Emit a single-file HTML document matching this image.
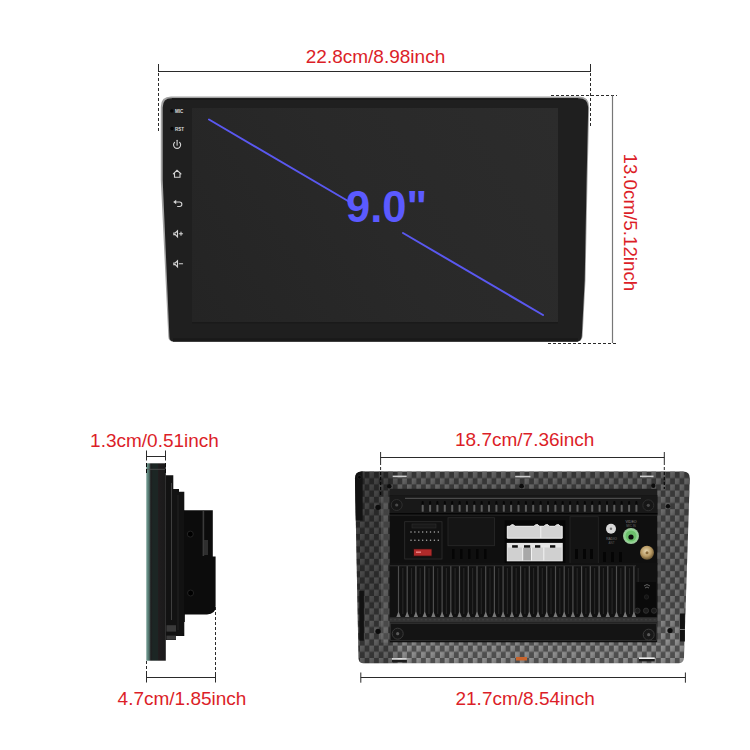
<!DOCTYPE html>
<html><head><meta charset="utf-8">
<style>
html,body{margin:0;padding:0;background:#fff;}
body{width:750px;height:750px;overflow:hidden;position:relative;font-family:"Liberation Sans",sans-serif;}
svg{position:absolute;left:0;top:0;}
.t{font-family:"Liberation Sans",sans-serif;font-size:19px;fill:#dc1e28;}
</style></head>
<body>
<svg width="750" height="750" viewBox="0 0 750 750">
<defs>
  <linearGradient id="scr" x1="558" y1="108" x2="192" y2="322" gradientUnits="userSpaceOnUse">
    <stop offset="0" stop-color="#2c2c2c"/>
    <stop offset="0.5" stop-color="#292929"/>
    <stop offset="1" stop-color="#242424"/>
  </linearGradient>
  <pattern id="cf" width="9.4" height="12.4" patternUnits="userSpaceOnUse" x="360" y="472">
    <rect width="9.4" height="12.4" fill="#4e4e4e"/>
    <rect x="0" y="0" width="4.7" height="6.2" fill="url(#cell)"/>
    <rect x="4.7" y="6.2" width="4.7" height="6.2" fill="url(#cell)"/>
  </pattern>
  <radialGradient id="blob" cx="0.45" cy="0.4" r="0.6">
    <stop offset="0" stop-color="#a0a0a0"/>
    <stop offset="0.5" stop-color="#808080"/>
    <stop offset="1" stop-color="#505050"/>
  </radialGradient>
  <linearGradient id="cell" x1="0" x2="1" y1="0" y2="1">
    <stop offset="0" stop-color="#969696"/>
    <stop offset="0.5" stop-color="#878787"/>
    <stop offset="1" stop-color="#707070"/>
  </linearGradient>
  <linearGradient id="cfshadeH" x1="355" x2="690" y1="0" y2="0" gradientUnits="userSpaceOnUse">
    <stop offset="0" stop-color="#000" stop-opacity="0.36"/>
    <stop offset="0.1" stop-color="#000" stop-opacity="0.3"/>
    <stop offset="0.14" stop-color="#000" stop-opacity="0"/>
    <stop offset="1" stop-color="#000" stop-opacity="0"/>
  </linearGradient>
  <linearGradient id="cfshadeV" x1="0" x2="0" y1="472" y2="663" gradientUnits="userSpaceOnUse">
    <stop offset="0" stop-color="#000" stop-opacity="0.32"/>
    <stop offset="0.15" stop-color="#000" stop-opacity="0.26"/>
    <stop offset="0.65" stop-color="#000" stop-opacity="0.2"/>
    <stop offset="0.88" stop-color="#000" stop-opacity="0"/>
    <stop offset="1" stop-color="#000" stop-opacity="0"/>
  </linearGradient>
  <linearGradient id="fp" x1="146.3" x2="165.8" y1="0" y2="0" gradientUnits="userSpaceOnUse">
    <stop offset="0" stop-color="#729a91"/>
    <stop offset="0.09" stop-color="#5f867d"/>
    <stop offset="0.19" stop-color="#3a4e4a"/>
    <stop offset="0.23" stop-color="#1f1b1d"/>
    <stop offset="0.33" stop-color="#1c2624"/>
    <stop offset="0.6" stop-color="#1c2624"/>
    <stop offset="0.63" stop-color="#221c1e"/>
    <stop offset="0.72" stop-color="#1e1c1d"/>
    <stop offset="1" stop-color="#1a1a1a"/>
  </linearGradient>
  <radialGradient id="gold" cx="0.45" cy="0.4" r="0.6">
    <stop offset="0" stop-color="#e8d8b0"/>
    <stop offset="0.6" stop-color="#b89a64"/>
    <stop offset="1" stop-color="#6a5530"/>
  </radialGradient>
  <linearGradient id="wc" x1="0" x2="0" y1="0" y2="1">
    <stop offset="0" stop-color="#f4f4f4"/>
    <stop offset="1" stop-color="#cfcfcf"/>
  </linearGradient>
</defs>

<!-- ============ TOP DEVICE ============ -->
<path d="M171,96.6 L579,96.6 Q589.2,96.6 589.2,107 L587.5,180 L585.5,280 L582.6,336 Q582.2,341.6 576.5,341.6 L173.5,341.6 Q168.4,341.6 168.3,336.5 L160.8,180 L160.8,107 Q160.8,96.6 171,96.6 Z" fill="#a2a2a2"/>
<path d="M171.5,98.2 L578.5,98.2 Q588.2,98.2 588.2,107.5 L586.6,180 L584.7,280 L581.8,336 Q581.5,341.6 576.5,341.6 L173.5,341.6 Q169.5,341.6 169.4,336.5 L162.7,180 L162.7,107.5 Q162.7,98.2 171.5,98.2 Z" fill="#1f1f1f"/>
<path d="M172,98.9 L578,98.9" stroke="#141414" stroke-width="1.2"/>
<rect x="173" y="338.3" width="405" height="3.3" fill="#191919"/>
<rect x="192" y="108" width="366" height="214" fill="url(#scr)"/>
<rect x="192" y="322" width="366" height="1.5" fill="#1a1a1a"/>

<!-- side labels -->
<circle cx="171.8" cy="110.9" r="1.7" fill="#050505"/>
<circle cx="172" cy="128.5" r="1.7" fill="#050505"/>
<text x="175" y="113" font-family="Liberation Sans" font-size="4.5" font-weight="bold" fill="#ddd">MIC</text>
<text x="175" y="130.5" font-family="Liberation Sans" font-size="4.5" font-weight="bold" fill="#ddd">RST</text>

<!-- icons -->
<g stroke="#d4d4d4" stroke-width="1.1" fill="none" stroke-linecap="round">
  <path d="M174.6,142.3 A3.55,3.55 0 1 0 179.6,142.3"/>
  <path d="M177.1,140.3 L177.1,145.2"/>
  <path d="M173.3,173.8 L177,170.3 L181,173.8 M174.5,172.8 L174.5,177.2 L180,177.2 L180,172.8"/>
  <path d="M175.2,202 L179.6,202 A2.25,2.25 0 0 1 179.6,206.5 L177.6,206.5"/>
  <path d="M173.8,233 L175.3,233 L177.5,230.8 L177.5,236.8 L175.3,234.6 L173.8,234.6 Z M179.3,233.7 L182.6,233.7 M181,232.1 L181,235.3"/>
  <path d="M173.8,263 L175.3,263 L177.5,260.8 L177.5,266.8 L175.3,264.6 L173.8,264.6 Z M179.3,263.7 L182.6,263.7"/>
</g>
<path d="M173.2,202 L176.2,199.8 L176.2,204.2 Z" fill="#d4d4d4"/>

<!-- diagonal + 9.0" -->
<g stroke="#5a58f0" stroke-width="2" stroke-linecap="round">
  <line x1="209" y1="119.5" x2="348" y2="201"/>
  <line x1="403" y1="233" x2="543" y2="315"/>
</g>
<text transform="translate(346,222) scale(0.99,1.015)" x="0" y="0" font-family="Liberation Sans" font-size="44" font-weight="bold" fill="#5b5aff">9.0"</text>

<!-- ============ TOP DIMENSIONS ============ -->
<g stroke="#2a2a2a" stroke-width="1" fill="none">
  <line x1="158.5" y1="71.5" x2="590.5" y2="71.5"/>
  <line x1="158.5" y1="64" x2="158.5" y2="72"/>
  <line x1="590.5" y1="64" x2="590.5" y2="72"/>
  <line x1="158.5" y1="73" x2="158.5" y2="131" stroke-dasharray="3,2"/>
  <line x1="590.5" y1="73" x2="590.5" y2="128" stroke-dasharray="3,2"/>
  <line x1="551" y1="95.5" x2="617" y2="95.5" stroke-dasharray="3,2"/>
  <line x1="548" y1="343.5" x2="617" y2="343.5" stroke-dasharray="3,2"/>
</g>
<line x1="612.5" y1="95.5" x2="612.5" y2="343" stroke="#777" stroke-width="1.2"/>
<text class="t" x="375.5" y="63.3" text-anchor="middle">22.8cm/8.98inch</text>
<text class="t" transform="translate(624,222.4) rotate(90)" text-anchor="middle" style="font-size:18.8px">13.0cm/5.12inch</text>

<!-- ============ SIDE VIEW ============ -->
<g>
  <path d="M165.5,475.3 L173.3,475.3 L173.3,489 L179,489 L179,491.7 L184.3,491.7 L184.3,636 L176,636 L176,640 L165.5,640 Z" fill="#121212"/>
  <path d="M184.3,510.3 L212.8,510.3 L212.8,556.5 L215.6,556.5 L215.6,606 Q215.6,614.4 207,614.4 L184.8,614.4 L184.8,622 L184,622 L184,633 L182.8,633 L182.8,636 L184,636 L184,510 Z" fill="#0c0c0c"/>
  <rect x="146.3" y="463.3" width="19.5" height="197.4" fill="url(#fp)"/>
  <line x1="147" y1="469.3" x2="165" y2="469.3" stroke="#555" stroke-width="0.8"/>
  <line x1="171.5" y1="483" x2="171.5" y2="620" stroke="#4a4a4a" stroke-width="0.8"/>
  <line x1="178" y1="495" x2="178" y2="630" stroke="#2a2a2a" stroke-width="0.8"/>
  <rect x="166.5" y="625.2" width="9.5" height="6.4" fill="#3a3a3a"/>
  <rect x="166.5" y="635.6" width="9.5" height="4" fill="#3a3a3a"/>
  <rect x="202.6" y="511" width="1.6" height="45" fill="#3a3a3a"/>
  <rect x="204" y="540" width="4" height="15" fill="#2e2e2e"/>
  <circle cx="190.3" cy="534.1" r="3" fill="#000" stroke="#222" stroke-width="1"/>
  <circle cx="190.6" cy="593" r="3" fill="#000" stroke="#222" stroke-width="1"/>
</g>
<g stroke="#2a2a2a" stroke-width="1" fill="none">
  <line x1="146.5" y1="456.5" x2="165.5" y2="456.5"/>
  <line x1="146.5" y1="450.5" x2="146.5" y2="460.5"/>
  <line x1="165.5" y1="450.5" x2="165.5" y2="460.5"/>
  <line x1="146.5" y1="463" x2="146.5" y2="473" stroke-dasharray="4,2" stroke="#0a0a0a"/>
  <line x1="165.5" y1="463" x2="165.5" y2="473" stroke-dasharray="4,2" stroke="#0a0a0a"/>
  <line x1="146.5" y1="677.5" x2="215.5" y2="677.5"/>
  <line x1="146.5" y1="672.5" x2="146.5" y2="682.5"/>
  <line x1="215.5" y1="672.5" x2="215.5" y2="682.5"/>
  <line x1="146.5" y1="661" x2="146.5" y2="673" stroke-dasharray="3,2"/>
  <line x1="215.5" y1="607" x2="215.5" y2="673" stroke-dasharray="3,2"/>
</g>
<text class="t" x="154.5" y="446.8" text-anchor="middle">1.3cm/0.51inch</text>
<text class="t" x="182" y="704.6" text-anchor="middle">4.7cm/1.85inch</text>

<!-- ============ BACK VIEW ============ -->
<path id="bv" d="M362,471.5 L683,471.5 Q690,471.5 689.8,478.5 L684,657.5 Q683.8,663.3 678.5,663.3 L363.5,663.3 Q358.7,663.3 358.5,658 L355,478.5 Q355,471.5 362,471.5 Z" fill="url(#cf)"/>
<path d="M362,471.5 L683,471.5 Q690,471.5 689.8,478.5 L684,657.5 Q683.8,663.3 678.5,663.3 L363.5,663.3 Q358.7,663.3 358.5,658 L355,478.5 Q355,471.5 362,471.5 Z" fill="url(#cfshadeH)"/>
<path d="M362,471.5 L683,471.5 Q690,471.5 689.8,478.5 L684,657.5 Q683.8,663.3 678.5,663.3 L363.5,663.3 Q358.7,663.3 358.5,658 L355,478.5 Q355,471.5 362,471.5 Z" fill="url(#cfshadeV)"/>
<!-- frame details -->
<path d="M355,478.5 Q355,471.5 362,471.5 L362.6,471.5 L362.6,520.5 L355.8,520.5 Z" fill="#121212"/>
<circle cx="359.4" cy="477.2" r="1.8" fill="#050505" stroke="#2a2a2a" stroke-width="0.6"/>
<rect x="359.3" y="591" width="4.6" height="49.7" fill="#121212"/>
<rect x="680" y="613.5" width="4.9" height="28" fill="#121212"/>
<rect x="680" y="629" width="4.9" height="0.9" fill="#888"/>
<rect x="381" y="496.7" width="7" height="146" fill="#999" opacity="0.22"/>
<rect x="657.5" y="496" width="3.5" height="147" fill="#555" opacity="0.6"/>
<rect x="392.7" y="475.6" width="14" height="1.6" fill="#cfcfcf"/>
<rect x="515.2" y="475.8" width="15.2" height="1.6" fill="#cfcfcf"/>
<rect x="640" y="475.6" width="13.5" height="1.6" fill="#cfcfcf"/>
<rect x="392" y="658.2" width="14.8" height="1.6" fill="#f0f0f0"/>
<rect x="392" y="659.8" width="14.8" height="2.4" fill="#1c1c1c"/>
<rect x="639" y="657.4" width="15.7" height="1.6" fill="#f0f0f0"/>
<rect x="639" y="659" width="15.7" height="2.4" fill="#1c1c1c"/>
<rect x="516" y="657" width="11" height="3.5" fill="#c8642c"/>
<g fill="#0c0c0c">
<circle cx="378" cy="507.3" r="2.6"/>
<circle cx="378" cy="631.3" r="2.6"/>
<circle cx="389.3" cy="486.3" r="2.2"/>
<circle cx="521.6" cy="486.2" r="2.4"/>
<circle cx="653.3" cy="485.7" r="2.2"/>
<circle cx="668" cy="506.3" r="2.2"/>
<circle cx="670" cy="630.5" r="2.6"/>
</g>

<!-- inner panel -->
<rect x="389.7" y="488.8" width="267.6" height="7" fill="#1e1e1e"/>
<rect x="389.7" y="495.3" width="267.6" height="147" fill="#0f0f0f"/>
<!-- top vent band -->
<rect x="389.7" y="495.3" width="267.6" height="19" fill="#181818"/>
<line x1="405" y1="498.4" x2="641" y2="498.4" stroke="#4a4a4a" stroke-width="1.1"/>
<rect x="421.7" y="501" width="2" height="4.5" rx="1" fill="#060606"/><rect x="421.7" y="504.8" width="2" height="7" rx="0.6" fill="#5e5e5e"/>
<rect x="429.1" y="501" width="2" height="4.5" rx="1" fill="#060606"/><rect x="429.1" y="504.8" width="2" height="7" rx="0.6" fill="#5e5e5e"/>
<rect x="436.4" y="501" width="2" height="4.5" rx="1" fill="#060606"/><rect x="436.4" y="504.8" width="2" height="7" rx="0.6" fill="#5e5e5e"/>
<rect x="443.8" y="501" width="2" height="4.5" rx="1" fill="#060606"/><rect x="443.8" y="504.8" width="2" height="7" rx="0.6" fill="#5e5e5e"/>
<rect x="451.2" y="501" width="2" height="4.5" rx="1" fill="#060606"/><rect x="451.2" y="504.8" width="2" height="7" rx="0.6" fill="#5e5e5e"/>
<rect x="458.6" y="501" width="2" height="4.5" rx="1" fill="#060606"/><rect x="458.6" y="504.8" width="2" height="7" rx="0.6" fill="#5e5e5e"/>
<rect x="465.9" y="501" width="2" height="4.5" rx="1" fill="#060606"/><rect x="465.9" y="504.8" width="2" height="7" rx="0.6" fill="#5e5e5e"/>
<rect x="473.3" y="501" width="2" height="4.5" rx="1" fill="#060606"/><rect x="473.3" y="504.8" width="2" height="7" rx="0.6" fill="#5e5e5e"/>
<rect x="480.7" y="501" width="2" height="4.5" rx="1" fill="#060606"/><rect x="480.7" y="504.8" width="2" height="7" rx="0.6" fill="#5e5e5e"/>
<rect x="488.0" y="501" width="2" height="4.5" rx="1" fill="#060606"/><rect x="488.0" y="504.8" width="2" height="7" rx="0.6" fill="#5e5e5e"/>
<rect x="495.4" y="501" width="2" height="4.5" rx="1" fill="#060606"/><rect x="495.4" y="504.8" width="2" height="7" rx="0.6" fill="#5e5e5e"/>
<rect x="502.8" y="501" width="2" height="4.5" rx="1" fill="#060606"/><rect x="502.8" y="504.8" width="2" height="7" rx="0.6" fill="#5e5e5e"/>
<rect x="510.1" y="501" width="2" height="4.5" rx="1" fill="#060606"/><rect x="510.1" y="504.8" width="2" height="7" rx="0.6" fill="#5e5e5e"/>
<rect x="517.5" y="501" width="2" height="4.5" rx="1" fill="#060606"/><rect x="517.5" y="504.8" width="2" height="7" rx="0.6" fill="#5e5e5e"/>
<rect x="524.9" y="501" width="2" height="4.5" rx="1" fill="#060606"/><rect x="524.9" y="504.8" width="2" height="7" rx="0.6" fill="#5e5e5e"/>
<rect x="532.2" y="501" width="2" height="4.5" rx="1" fill="#060606"/><rect x="532.2" y="504.8" width="2" height="7" rx="0.6" fill="#5e5e5e"/>
<rect x="539.6" y="501" width="2" height="4.5" rx="1" fill="#060606"/><rect x="539.6" y="504.8" width="2" height="7" rx="0.6" fill="#5e5e5e"/>
<rect x="547.0" y="501" width="2" height="4.5" rx="1" fill="#060606"/><rect x="547.0" y="504.8" width="2" height="7" rx="0.6" fill="#5e5e5e"/>
<rect x="554.4" y="501" width="2" height="4.5" rx="1" fill="#060606"/><rect x="554.4" y="504.8" width="2" height="7" rx="0.6" fill="#5e5e5e"/>
<rect x="561.7" y="501" width="2" height="4.5" rx="1" fill="#060606"/><rect x="561.7" y="504.8" width="2" height="7" rx="0.6" fill="#5e5e5e"/>
<rect x="569.1" y="501" width="2" height="4.5" rx="1" fill="#060606"/><rect x="569.1" y="504.8" width="2" height="7" rx="0.6" fill="#5e5e5e"/>
<rect x="576.5" y="501" width="2" height="4.5" rx="1" fill="#060606"/><rect x="576.5" y="504.8" width="2" height="7" rx="0.6" fill="#5e5e5e"/>
<rect x="583.8" y="501" width="2" height="4.5" rx="1" fill="#060606"/><rect x="583.8" y="504.8" width="2" height="7" rx="0.6" fill="#5e5e5e"/>
<rect x="591.2" y="501" width="2" height="4.5" rx="1" fill="#060606"/><rect x="591.2" y="504.8" width="2" height="7" rx="0.6" fill="#5e5e5e"/>
<rect x="598.6" y="501" width="2" height="4.5" rx="1" fill="#060606"/><rect x="598.6" y="504.8" width="2" height="7" rx="0.6" fill="#5e5e5e"/>
<rect x="606.0" y="501" width="2" height="4.5" rx="1" fill="#060606"/><rect x="606.0" y="504.8" width="2" height="7" rx="0.6" fill="#5e5e5e"/>
<rect x="613.3" y="501" width="2" height="4.5" rx="1" fill="#060606"/><rect x="613.3" y="504.8" width="2" height="7" rx="0.6" fill="#5e5e5e"/>
<rect x="620.7" y="501" width="2" height="4.5" rx="1" fill="#060606"/><rect x="620.7" y="504.8" width="2" height="7" rx="0.6" fill="#5e5e5e"/>
<rect x="628.1" y="501" width="2" height="4.5" rx="1" fill="#060606"/><rect x="628.1" y="504.8" width="2" height="7" rx="0.6" fill="#5e5e5e"/>
<rect x="635.4" y="501" width="2" height="4.5" rx="1" fill="#060606"/><rect x="635.4" y="504.8" width="2" height="7" rx="0.6" fill="#5e5e5e"/>
<line x1="389.7" y1="513.8" x2="657.3" y2="513.8" stroke="#060606" stroke-width="1.4"/>
<line x1="389.7" y1="515.2" x2="657.3" y2="515.2" stroke="#2c2c2c" stroke-width="0.8"/>
<circle cx="396.7" cy="505" r="5.5" fill="#161616" stroke="#2e2e2e" stroke-width="1"/>
<circle cx="396.7" cy="505" r="1.6" fill="#4a4a4a"/>
<circle cx="648.3" cy="505.3" r="5.5" fill="#161616" stroke="#2e2e2e" stroke-width="1"/>
<circle cx="648.3" cy="505.3" r="1.6" fill="#4a4a4a"/>

<!-- ISO connector -->
<rect x="404.7" y="521.7" width="37.3" height="37.3" fill="#111" stroke="#2e2e2e" stroke-width="0.8"/>
<rect x="412" y="524" width="24" height="4" fill="#1a1a1a" stroke="#2e2e2e" stroke-width="0.6"/>
<g fill="#aaa">
<circle cx="411.0" cy="532" r="0.75"/><circle cx="411.0" cy="540.3" r="0.75"/>
<circle cx="414.9" cy="532" r="0.75"/><circle cx="414.9" cy="540.3" r="0.75"/>
<circle cx="418.8" cy="532" r="0.75"/><circle cx="418.8" cy="540.3" r="0.75"/>
<circle cx="422.7" cy="532" r="0.75"/><circle cx="422.7" cy="540.3" r="0.75"/>
<circle cx="426.6" cy="532" r="0.75"/><circle cx="426.6" cy="540.3" r="0.75"/>
<circle cx="430.5" cy="532" r="0.75"/><circle cx="430.5" cy="540.3" r="0.75"/>
<circle cx="434.4" cy="532" r="0.75"/><circle cx="434.4" cy="540.3" r="0.75"/>
<circle cx="438.3" cy="532" r="0.75"/><circle cx="438.3" cy="540.3" r="0.75"/>
</g>
<rect x="412.7" y="548.5" width="19.5" height="8.2" fill="#2a1010"/>
<rect x="414" y="549.3" width="17.5" height="6.4" fill="#b02a2a"/>
<rect x="416" y="551.5" width="5" height="1.4" fill="#e88"/>
<!-- block 2 -->
<rect x="448" y="517.7" width="46.5" height="28" fill="#151515" stroke="#2a2a2a" stroke-width="0.8"/>
<g fill="#050505">
<rect x="452" y="549" width="2.5" height="10"/><rect x="460" y="549" width="2.5" height="10"/><rect x="468" y="549" width="2.5" height="10"/><rect x="476" y="549" width="2.5" height="10"/><rect x="484" y="549" width="2.5" height="10"/>
</g>
<!-- white connectors -->
<rect x="504.7" y="520.3" width="60.6" height="43.4" fill="#060606"/>
<path d="M507.3,526.3 L510,526.3 L511.5,524.8 L513.5,524.8 L515,526.3 L534,526.3 L535.5,524.8 L538,524.8 L539.5,526.3 L544,526.3 L545.5,524.8 L548,524.8 L549.5,526.3 L555,526.3 L556.5,524.8 L559,524.8 L560.5,526.3 L562.2,526.3 L562.2,538.2 L507.3,538.2 Z" fill="#d3d3d3" stroke="#f2f2f2" stroke-width="1"/>
<line x1="540.8" y1="526.5" x2="540.8" y2="538" stroke="#f2f2f2" stroke-width="1"/>
<rect x="507.3" y="543.4" width="54.9" height="17.4" fill="#d0d0d0" stroke="#f0f0f0" stroke-width="1"/>
<rect x="507.8" y="543.9" width="54" height="3.6" fill="#e6e6e6"/>
<rect x="523" y="548" width="8.3" height="12.3" fill="#a8a8a8"/>
<g stroke="#f2f2f2" stroke-width="1">
<line x1="522.7" y1="547.5" x2="522.7" y2="560.5"/><line x1="531.5" y1="547.5" x2="531.5" y2="560.5"/><line x1="543.8" y1="547.5" x2="543.8" y2="560.5"/>
</g>
<g fill="#101010">
<rect x="512.1" y="545.2" width="5.7" height="2.5"/><rect x="524" y="545.2" width="6.2" height="2.5"/><rect x="535" y="545.2" width="5.3" height="2.5"/><rect x="550" y="545.2" width="5.3" height="2.5"/>
</g>
<!-- block 4 -->
<rect x="570" y="516.7" width="28.3" height="48" fill="#131313" stroke="#262626" stroke-width="0.8"/>
<g fill="#050505"><rect x="575" y="549" width="3" height="10"/><rect x="583" y="549" width="3" height="10"/><rect x="590" y="549" width="3" height="10"/></g>
<!-- right I/O -->
<circle cx="611" cy="528.7" r="5" fill="#d8d8d8"/>
<circle cx="611" cy="528.7" r="1.2" fill="#777"/>
<text x="631" y="522.5" font-family="Liberation Sans" font-size="3.6" fill="#8a8a8a" text-anchor="middle">VIDEO</text>
<text x="631" y="526.5" font-family="Liberation Sans" font-size="3" fill="#6a6a6a" text-anchor="middle">MIC IN</text>
<text x="611.5" y="540" font-family="Liberation Sans" font-size="3.4" fill="#7a7a7a" text-anchor="middle">RADIO</text>
<text x="611.5" y="543.5" font-family="Liberation Sans" font-size="3" fill="#5a5a5a" text-anchor="middle">ANT</text>
<circle cx="631" cy="536" r="8" fill="#9cc89c"/>
<circle cx="631" cy="536" r="6.8" fill="#8fd88f"/>
<circle cx="631" cy="536" r="5.5" fill="#6cc06c"/>
<circle cx="631" cy="537" r="2.6" fill="#0a0a0a"/>
<circle cx="647" cy="552.7" r="7" fill="url(#gold)"/>
<circle cx="647" cy="552.7" r="1.5" fill="#8a6a3a"/>
<g fill="#050505"><rect x="603" y="552" width="3" height="10"/><rect x="611" y="552" width="3" height="10"/><rect x="619" y="552" width="3" height="10"/></g>

<!-- fin area -->
<rect x="389.7" y="563" width="267.6" height="54.5" fill="#111"/>
<g stroke="#4e4e4e" stroke-width="1.2">
<line x1="398.5" y1="566" x2="398.5" y2="614" />
<line x1="402.8" y1="568" x2="402.8" y2="614" stroke="#262626"/>
<line x1="407.2" y1="566" x2="407.2" y2="614" />
<line x1="411.5" y1="568" x2="411.5" y2="614" stroke="#262626"/>
<line x1="415.9" y1="566" x2="415.9" y2="614" />
<line x1="420.2" y1="568" x2="420.2" y2="614" stroke="#262626"/>
<line x1="424.7" y1="566" x2="424.7" y2="614" />
<line x1="429.0" y1="568" x2="429.0" y2="614" stroke="#262626"/>
<line x1="433.4" y1="566" x2="433.4" y2="614" />
<line x1="437.7" y1="568" x2="437.7" y2="614" stroke="#262626"/>
<line x1="442.1" y1="566" x2="442.1" y2="614" />
<line x1="446.4" y1="568" x2="446.4" y2="614" stroke="#262626"/>
<line x1="450.8" y1="566" x2="450.8" y2="614" />
<line x1="455.1" y1="568" x2="455.1" y2="614" stroke="#262626"/>
<line x1="459.5" y1="566" x2="459.5" y2="614" />
<line x1="463.8" y1="568" x2="463.8" y2="614" stroke="#262626"/>
<line x1="468.3" y1="566" x2="468.3" y2="614" />
<line x1="472.6" y1="568" x2="472.6" y2="614" stroke="#262626"/>
<line x1="477.0" y1="566" x2="477.0" y2="614" />
<line x1="481.3" y1="568" x2="481.3" y2="614" stroke="#262626"/>
<line x1="485.7" y1="566" x2="485.7" y2="614" />
<line x1="490.0" y1="568" x2="490.0" y2="614" stroke="#262626"/>
<line x1="494.4" y1="566" x2="494.4" y2="614" />
<line x1="498.7" y1="568" x2="498.7" y2="614" stroke="#262626"/>
<line x1="503.1" y1="566" x2="503.1" y2="614" />
<line x1="507.4" y1="568" x2="507.4" y2="614" stroke="#262626"/>
<line x1="511.9" y1="566" x2="511.9" y2="614" />
<line x1="516.2" y1="568" x2="516.2" y2="614" stroke="#262626"/>
<line x1="520.6" y1="566" x2="520.6" y2="614" />
<line x1="524.9" y1="568" x2="524.9" y2="614" stroke="#262626"/>
<line x1="529.3" y1="566" x2="529.3" y2="614" />
<line x1="533.6" y1="568" x2="533.6" y2="614" stroke="#262626"/>
<line x1="538.0" y1="566" x2="538.0" y2="614" />
<line x1="542.3" y1="568" x2="542.3" y2="614" stroke="#262626"/>
<line x1="546.7" y1="566" x2="546.7" y2="614" />
<line x1="551.0" y1="568" x2="551.0" y2="614" stroke="#262626"/>
<line x1="555.5" y1="566" x2="555.5" y2="614" />
<line x1="559.8" y1="568" x2="559.8" y2="614" stroke="#262626"/>
<line x1="564.2" y1="566" x2="564.2" y2="614" />
<line x1="568.5" y1="568" x2="568.5" y2="614" stroke="#262626"/>
<line x1="572.9" y1="566" x2="572.9" y2="614" />
<line x1="577.2" y1="568" x2="577.2" y2="614" stroke="#262626"/>
<line x1="581.6" y1="566" x2="581.6" y2="614" />
<line x1="585.9" y1="568" x2="585.9" y2="614" stroke="#262626"/>
<line x1="590.3" y1="566" x2="590.3" y2="614" />
<line x1="594.6" y1="568" x2="594.6" y2="614" stroke="#262626"/>
<line x1="599.1" y1="566" x2="599.1" y2="614" />
<line x1="603.4" y1="568" x2="603.4" y2="614" stroke="#262626"/>
<line x1="607.8" y1="566" x2="607.8" y2="614" />
<line x1="612.1" y1="568" x2="612.1" y2="614" stroke="#262626"/>
<line x1="616.5" y1="566" x2="616.5" y2="614" />
<line x1="620.8" y1="568" x2="620.8" y2="614" stroke="#262626"/>
<line x1="625.2" y1="566" x2="625.2" y2="614" />
<line x1="629.5" y1="568" x2="629.5" y2="614" stroke="#262626"/>
<line x1="633.9" y1="566" x2="633.9" y2="614" />
<line x1="638.2" y1="568" x2="638.2" y2="614" stroke="#262626"/>
</g>
<g fill="#7a7a7a">
<path d="M396.3,617 L398.5,611.5 L400.7,617 Z"/>
<path d="M405.0,617 L407.2,611.5 L409.4,617 Z"/>
<path d="M413.7,617 L415.9,611.5 L418.1,617 Z"/>
<path d="M422.5,617 L424.7,611.5 L426.9,617 Z"/>
<path d="M431.2,617 L433.4,611.5 L435.6,617 Z"/>
<path d="M439.9,617 L442.1,611.5 L444.3,617 Z"/>
<path d="M448.6,617 L450.8,611.5 L453.0,617 Z"/>
<path d="M457.3,617 L459.5,611.5 L461.7,617 Z"/>
<path d="M466.1,617 L468.3,611.5 L470.5,617 Z"/>
<path d="M474.8,617 L477.0,611.5 L479.2,617 Z"/>
<path d="M483.5,617 L485.7,611.5 L487.9,617 Z"/>
<path d="M492.2,617 L494.4,611.5 L496.6,617 Z"/>
<path d="M500.9,617 L503.1,611.5 L505.3,617 Z"/>
<path d="M509.7,617 L511.9,611.5 L514.1,617 Z"/>
<path d="M518.4,617 L520.6,611.5 L522.8,617 Z"/>
<path d="M527.1,617 L529.3,611.5 L531.5,617 Z"/>
<path d="M535.8,617 L538.0,611.5 L540.2,617 Z"/>
<path d="M544.5,617 L546.7,611.5 L548.9,617 Z"/>
<path d="M553.3,617 L555.5,611.5 L557.7,617 Z"/>
<path d="M562.0,617 L564.2,611.5 L566.4,617 Z"/>
<path d="M570.7,617 L572.9,611.5 L575.1,617 Z"/>
<path d="M579.4,617 L581.6,611.5 L583.8,617 Z"/>
<path d="M588.1,617 L590.3,611.5 L592.5,617 Z"/>
<path d="M596.9,617 L599.1,611.5 L601.3,617 Z"/>
<path d="M605.6,617 L607.8,611.5 L610.0,617 Z"/>
<path d="M614.3,617 L616.5,611.5 L618.7,617 Z"/>
<path d="M623.0,617 L625.2,611.5 L627.4,617 Z"/>
<path d="M631.7,617 L633.9,611.5 L636.1,617 Z"/>
</g>
<line x1="389.7" y1="565.8" x2="636" y2="565.8" stroke="#333" stroke-width="0.9"/>
<rect x="636" y="582" width="20" height="35" fill="#0a0a0a"/>
<path d="M644,586 l3,-1.5 l3,1.5 M645,588 l2,-1 l2,1" stroke="#777" stroke-width="0.8" fill="none"/>
<circle cx="646.5" cy="597" r="2.2" fill="#151515" stroke="#2a2a2a" stroke-width="0.6"/>
<circle cx="637.5" cy="610.7" r="2.6" fill="#1c1c1c" stroke="#3a3a3a" stroke-width="0.7"/>
<circle cx="646" cy="610.7" r="2.6" fill="#1c1c1c" stroke="#3a3a3a" stroke-width="0.7"/>
<circle cx="654" cy="610.7" r="2.6" fill="#1c1c1c" stroke="#3a3a3a" stroke-width="0.7"/>
<rect x="389.7" y="617.3" width="267.6" height="5.3" fill="#333"/>
<line x1="389.7" y1="619.8" x2="657.3" y2="619.8" stroke="#484848" stroke-width="0.8" stroke-dasharray="2,2.4"/>
<!-- bottom bar -->
<rect x="390.5" y="623.5" width="266" height="17" fill="#141414" stroke="#333" stroke-width="0.8"/>
<circle cx="397.7" cy="633.7" r="5.5" fill="#181818" stroke="#3a3a3a" stroke-width="1"/>
<circle cx="397.7" cy="633.7" r="1.6" fill="#5a5a5a"/>
<circle cx="648.7" cy="634.7" r="5.5" fill="#181818" stroke="#3a3a3a" stroke-width="1"/>
<circle cx="648.7" cy="634.7" r="1.6" fill="#5a5a5a"/>

<g stroke="#2a2a2a" stroke-width="1" fill="none">
  <line x1="380.6" y1="457.5" x2="664.3" y2="457.5"/>
  <line x1="380.6" y1="452" x2="380.6" y2="462"/>
  <line x1="664.3" y1="452" x2="664.3" y2="462"/>
  <line x1="380.6" y1="462" x2="380.6" y2="472" stroke-dasharray="3,2"/>
  <line x1="380.6" y1="472" x2="380.6" y2="497" stroke-dasharray="3,2" stroke="#080808" stroke-width="1.2"/>
  <line x1="664.3" y1="462" x2="664.3" y2="472" stroke-dasharray="3,2"/>
  <line x1="664.3" y1="472" x2="664.3" y2="489" stroke-dasharray="3,2" stroke="#080808" stroke-width="1.2"/>
  <line x1="360.8" y1="677.5" x2="685.4" y2="677.5"/>
  <line x1="360.8" y1="672.5" x2="360.8" y2="682.7"/>
  <line x1="685.4" y1="672.5" x2="685.4" y2="682.7"/>
</g>
<text class="t" x="524.7" y="446.2" text-anchor="middle">18.7cm/7.36inch</text>
<text class="t" x="525.2" y="704.6" text-anchor="middle">21.7cm/8.54inch</text>
</svg>
</body></html>
